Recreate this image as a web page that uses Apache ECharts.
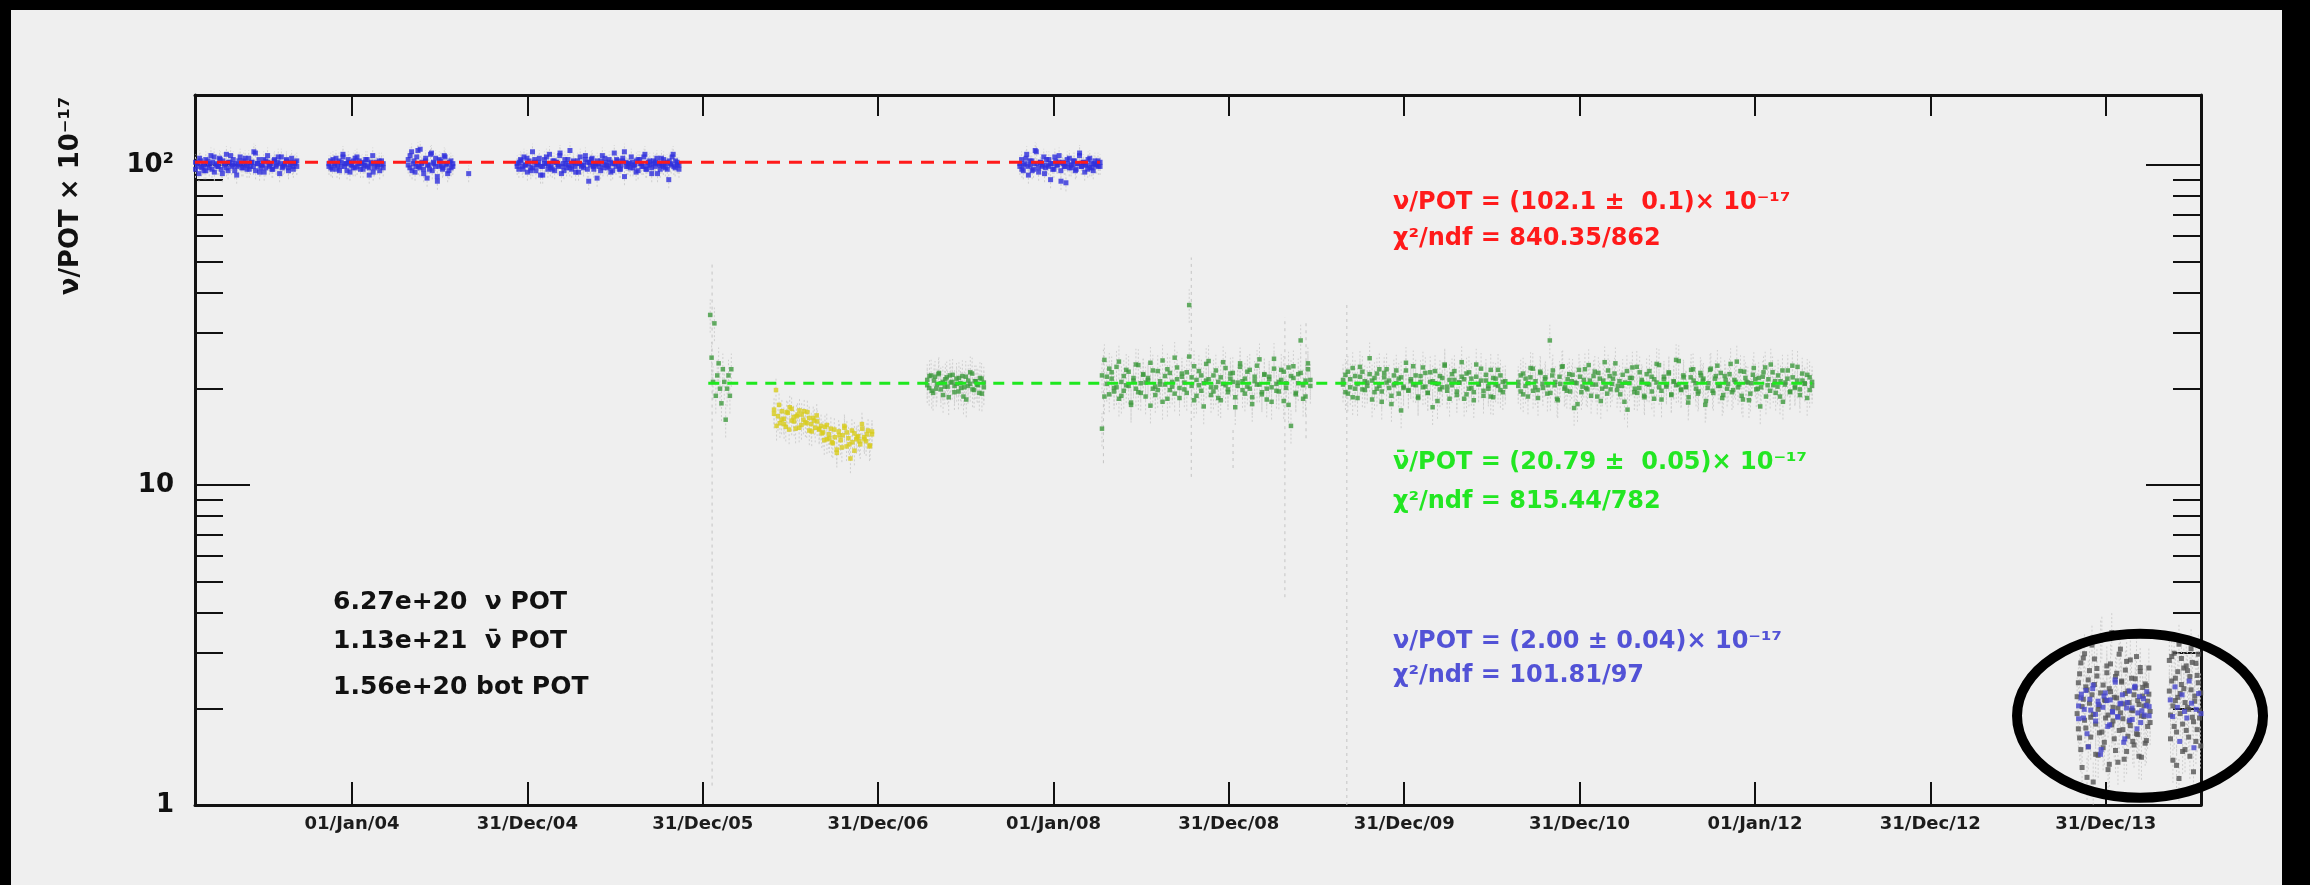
<!DOCTYPE html>
<html><head><meta charset="utf-8">
<script src="https://cdn.jsdelivr.net/npm/echarts@6/dist/echarts.min.js"></script>
<style>
html,body{margin:0;padding:0;background:#000;width:2310px;height:885px;overflow:hidden;}
#chart{position:absolute;left:11px;top:10px;width:2271px;height:875px;background:#efefef;}
</style></head><body><div id="chart"></div>
<script>
// ---------- axis definitions ----------
const xRange = ['2003-02-08', '2014-07-18'];
const yRange = [1, 165.5];
const xTickDates = ['2004-01-01T00:00:00Z','2004-12-31T06:00:00Z','2005-12-31T12:00:00Z','2006-12-31T18:00:00Z','2008-01-01T00:00:00Z','2008-12-31T06:00:00Z','2009-12-31T12:00:00Z','2010-12-31T18:00:00Z','2012-01-01T00:00:00Z','2012-12-31T06:00:00Z','2013-12-31T12:00:00Z'];
const xTickLabels = ['01/Jan/04','31/Dec/04','31/Dec/05','31/Dec/06','01/Jan/08','31/Dec/08','31/Dec/09','31/Dec/10','01/Jan/12','31/Dec/12','31/Dec/13'];
const yMajorTicks = [1, 10, 100];
const yMajorLabels = ['1', '10', '10²'];
const yMinorTicks = [2,3,4,5,6,7,8,9,20,30,40,50,60,70,80,90];

// ---------- neutrino mode (blue) ----------
const nuSeg1Range = ['2003-02-09','2003-09-08'];
const nuSeg1 = [97,101,94,103,99,96,104,100,98,107,102,95,101,99,105,97,103,100,108,96,102,99,104,101,93,100,106,98,103,100,97,105,99,102,110,96,101,104,98,100,95,103,107,99,101,97,104,100,102,94,106,99,101,103,98,100,105,97,102,99];
const nuSeg1b = [102,99,105,98,100,96,103,101,97,106,100,99,104,94,101,98,102,107,100,96,99,103,101,98,105,100,97,102,99,109,101,95,100,104,98,102,100,97,103,99,106,101,98,100,104,96,102,99,101,103];
const nuSeg2Range = ['2003-11-14','2004-03-06'];
const nuSeg2 = [99,103,97,101,105,100,96,102,108,99,101,104,95,100,103,98,106,101,97,102,100,104,99,93,101,107,98,102,100,96,103,101];
const nuSeg2b = [101,98,104,100,97,103,99,106,101,96,102,100,98,105,99,103,101,97,100,104,98,102,95,101,99,103,100,98];
const nuSeg3Range = ['2004-04-27','2004-07-29'];
const nuSeg3 = [104,98,110,101,95,106,99,112,102,97,103,91,100,108,96,101,105,89,99,103,97,107,100,94,102,98,101];
const nuSeg3b = [100,107,96,103,99,111,98,101,94,105,100,97,109,102,99,92,104,100,98,106,101,96,103,99];
const nuSeg4Range = ['2004-12-10','2005-11-12'];
const nuSeg4 = [101,97,104,99,106,100,95,103,98,110,102,96,100,105,99,93,104,101,97,108,100,103,96,102,99,107,94,101,104,98,100,111,97,103,99,101,95,106,100,98,104,102,89,100,105,97,101,103,99,96,107,100,102,98,104,95,101,109,99,103,97,100,105,92,102,99,101,106,98,100,103,96,104,101,99,108,97,102,100,94,103,99,105,101,97,100,104,98,102,90,101,106,99,103,100,97];
const nuSeg4b = [99,102,103,97,100,105,101,96,98,104,100,102,93,99,101,106,100,98,97,103,102,100,109,99,96,101,104,98,100,102,95,103,101,99,100,107,97,102,104,99,100,91,101,103,98,105,100,99,102,96,101,104,100,97,103,110,99,101,98,102,100,95,104,101,99,106,97,100,103,98,101,102,94,100,105,99,101,97,103,100,108,98,102,100];
const nuSeg5Range = ['2007-10-23','2008-04-07'];
const nuSeg5 = [99,104,96,101,108,93,100,103,97,111,101,95,102,99,106,98,100,104,90,101,97,103,100,107,96,102,99,88,101,105,98,100,103,97,101,109,99,102,95,100,104,98,101,96,103,100,99,102];
const nuSeg5b = [101,97,100,105,99,103,96,101,110,98,102,100,94,104,99,101,97,106,100,102,89,101,99,104,98,100,103,96,101,107,99,102,100,97,105,98,101,100,103,99];
const nuExtraDates = ['2004-08-31'];
const nuExtraValues = [94];

// ---------- antineutrino mode (green) ----------
const nbSeg1Range = ['2006-01-16','2006-03-01'];
const nbSeg1 = [34,25,21,32,19,22,24,20,18,23,21,16,20,22,19,23];
const nbSeg2Range = ['2007-04-13','2007-08-09'];
const nbSeg2 = [21.3,20.1,22.0,19.4,21.8,20.6,22.4,19.9,21.0,20.3,21.7,18.8,20.9,22.1,20.4,21.5,19.6,20.8,21.9,20.2,18.5,21.2,20.7,22.3,19.8,21.1,20.5,21.6,19.3,20.9];
const nbSeg2b = [20.5,21.9,19.7,21.2,20.0,22.2,20.8,19.1,21.4,20.3,22.0,21.0,19.5,20.7,21.6,20.1,18.9,21.8,20.4,22.5,19.9,21.1,20.6,19.4,21.5,20.2];
const nbSeg3Range = ['2008-04-11','2009-06-19'];
const nbSeg3 = [15.0,24.6,21.8,19.2,22.5,20.1,23.4,18.6,21.0,19.7,22.9,20.4,17.8,21.6,23.8,19.5,20.8,22.2,18.9,21.3,24.1,20.0,19.1,22.7,20.6,18.2,21.9,23.0,19.8,20.3,25.0,21.4,18.7,22.3,20.9,19.4,36.5,21.7,23.5,19.0,20.5,22.0,17.6,21.2,24.4,20.2,19.6,22.8,21.0,18.4,20.7,23.2,19.9,21.5,22.4,18.8,20.4,24.0,21.1,19.3,22.6,20.0,17.9,21.8,23.6,20.6,19.5,22.1,18.5,21.4,20.2,24.8,19.7,21.0,22.9,18.3,20.8,23.3,15.3,21.6,19.2,22.2,28.3,20.5,18.9,23.0,21.3];
const nbSeg3b = [22.0,18.9,20.7,23.1,21.5,19.6,20.2,24.3,19.0,21.9,20.5,22.6,18.1,21.2,20.0,23.7,19.4,22.1,20.9,21.6,17.7,22.8,20.3,19.8,21.1,24.5,20.6,18.6,22.4,21.0,19.3,23.3,20.1,21.8,19.9,22.5,25.2,20.4,18.4,21.3,22.7,19.7,20.8,23.9,21.4,19.1,22.0,20.2,18.7,21.7,24.2,20.5,19.5,22.3,21.0,17.5,20.9,23.4,19.8,21.5,20.3,22.9,18.8,21.1,20.6,24.7,19.2,22.2,20.0,21.8,18.2,23.1,20.7,19.6,21.3,22.6,20.1,17.8,21.9,23.5,19.4,20.8,22.4,18.6,21.2,24.0,20.4];
const nbSeg4Range = ['2009-08-26','2010-07-30'];
const nbSeg4 = [20.6,22.1,19.3,21.4,23.2,20.0,18.7,21.8,22.6,19.8,20.9,24.9,21.2,19.5,22.3,20.4,18.2,21.7,23.0,20.1,19.0,22.0,20.8,21.5,17.1,20.3,22.8,19.7,21.1,23.5,20.5,18.9,21.9,20.2,22.4,19.4,21.0,17.5,22.7,20.7,19.9,21.6,23.8,20.3,18.6,22.2,21.3,19.6,20.9,24.2,21.4,19.2,22.5,20.1,18.4,21.8,20.6,23.1,19.7,21.2,20.0,22.9,18.8,21.5,20.4,22.0,19.5,21.1];
const nbSeg4b = [21.3,19.5,22.6,20.2,18.8,21.9,20.7,23.4,19.9,21.1,20.4,22.2,18.5,21.6,20.0,23.0,19.6,22.4,20.9,21.2,17.9,20.5,22.8,19.3,21.7,20.1,24.1,19.8,21.4,20.6,22.0,18.7,21.0,23.3,20.3,19.4,22.5,21.1,20.8,18.3,21.9,20.2,23.6,19.7,21.3,20.5,22.7,19.1,20.9,21.8,18.6,22.3,20.0,21.5,19.5,23.8,20.7,21.2,19.0,22.1,20.4,18.9,21.6,20.6,22.9,19.8,21.0,20.3];
const nbSeg5Range = ['2010-08-26','2012-04-29'];
const nbSeg5 = [21.0,19.6,22.3,20.4,18.9,21.7,23.1,20.2,19.8,22.6,20.7,21.4,19.3,28.3,22.0,20.5,18.6,21.8,23.4,20.0,19.7,22.2,21.1,17.4,20.8,22.9,19.5,21.3,20.1,23.7,19.0,21.9,20.6,22.4,18.3,21.2,20.3,22.8,19.9,21.5,24.0,20.4,19.2,22.1,20.9,17.2,21.6,23.3,20.0,19.4,22.5,21.0,18.8,20.7,22.7,19.6,21.4,23.9,20.2,18.5,21.8,20.5,22.3,19.1,21.1,24.6,20.6,19.8,22.0,20.3,18.1,21.7,23.0,20.8,19.3,22.4,21.2,17.8,20.1,22.9,19.7,21.5,23.6,20.4,18.7,21.9,20.0,22.2,19.5,21.3,24.3,20.6,19.0,22.6,21.0,18.4,20.8,23.2,19.9,21.6,20.2,22.5,18.9,21.4,23.8,20.5,19.4,22.0,21.1,18.2,20.9,22.8,19.6,21.7,20.3,23.4,19.1,21.2,20.7,22.1,19.8,21.0];
const nbSeg5b = [20.4,22.0,19.2,21.5,20.8,23.2,19.7,21.1,18.7,22.4,20.1,21.7,20.5,19.4,22.8,21.0,18.4,20.7,23.5,20.2,21.4,19.6,22.1,20.9,17.9,21.8,20.3,23.0,19.9,21.2,20.6,22.6,18.9,21.5,20.0,24.2,19.3,21.9,20.7,22.3,19.8,21.1,20.4,18.2,22.7,20.8,21.6,19.5,23.4,20.1,21.3,19.0,22.2,20.6,21.8,18.6,20.9,23.7,19.7,21.4,20.3,22.5,19.2,21.0,20.5,24.4,19.9,21.7,20.2,18.8,22.9,21.2,20.0,19.6,22.0,21.5,18.3,20.8,23.1,19.4,21.9,20.4,22.4,19.1,21.3,20.7,23.9,19.8,21.0,20.2,22.7,18.5,21.6,20.9,19.3,22.1,21.4,20.0,17.6,21.8,23.3,20.5,19.7,22.5,21.1,20.3,18.9,22.8,20.6,21.5,19.5,23.6,20.1,21.2,19.9,22.3,20.8,18.7,21.7,20.4];

// ---------- antineutrino, absorber period (yellow) ----------
const ylRange = ['2006-05-29','2006-12-19'];
const ylValues = [17.2,19.8,16.4,15.6,17.0,16.1,15.2,16.8,17.5,15.9,16.3,15.0,16.6,17.1,15.4,16.0,15.7,16.9,14.8,15.5,16.2,15.1,15.8,14.9,15.3,14.6,15.2,13.9,14.4,15.0,13.5,14.1,12.9,14.7,13.8,14.3,15.1,13.2,14.0,12.1,13.6,14.5,13.9,14.2,13.4,15.0,14.1,13.7,14.8,13.3,14.4];
const ylValuesB = [16.7,15.3,17.8,16.0,15.5,16.9,14.9,17.3,15.8,16.4,15.1,16.6,17.0,15.6,16.2,14.7,15.9,16.5,15.0,14.5,13.8,15.4,14.0,13.6,14.9,12.6,14.3,13.1,15.3,14.6,13.4,14.8,12.8,14.1,13.7,15.5,13.9,14.4,13.2,14.7];

// ---------- beam off target (grey / blue) ----------
const botSeg1Range = ['2013-11-02','2014-04-03'];
const botSeg1 = [1.93,2.41,1.62,2.78,1.31,2.14,2.97,1.74,2.29,1.52,2.63,1.88,2.21,1.18,2.86,1.79,2.53,1.43,2.04,3.28,1.69,2.37,1.57,2.12,2.72,1.91,1.34,2.26,3.46,1.83,2.17,1.48,2.58,2.01,1.71,3.07,2.44,1.86,1.39,2.23,2.81,1.64,2.09,1.77,2.49,1.97,1.54,2.32,2.91,1.66,2.06,2.61,1.41,2.19,1.89,2.39,1.59,2.11,2.68,1.81];
const botSeg1b = [2.18,1.73,2.57,1.49,2.03,2.88,1.84,2.34,1.22,2.46,2.08,1.63,3.16,1.92,2.38,1.44,2.67,1.99,1.68,2.24,3.37,1.51,2.13,1.87,2.59,1.29,2.31,2.76,1.78,2.02,1.61,2.52,2.16,1.36,2.96,1.94,2.42,1.72,2.07,2.64,1.47,2.27,1.82,2.84,1.98,1.58,2.21,2.48,1.67,2.12,1.42,2.69,1.90,2.33,2.04,1.56,2.36,1.76,2.22,1.96];
const botSeg2Range = ['2014-05-13','2014-07-20'];
const botSeg2 = [2.83,1.91,2.44,1.38,2.98,2.12,1.69,2.61,1.21,2.23,2.87,1.79,2.31,1.49,2.72,2.02,1.63,2.52,3.08,1.88,1.27,2.19,2.77,1.72,2.41,1.97,1.53,2.58];
const botSeg2b = [2.27,1.61,2.91,2.04,1.76,2.49,1.33,2.17,3.18,1.93,2.38,1.47,2.68,2.09,1.71,2.63,1.99,1.42,2.29,2.79,1.82,2.11,1.58,2.54,2.96,1.87,2.24,1.66];
const botBlue1Range = ['2013-11-05','2014-04-01'];
const botBlue1 = [2.04,2.16,1.87,2.28,1.52,1.98,2.37,1.83,2.11,1.44,2.02,2.24,1.76,2.13,1.95,2.46,1.89,2.07,2.21,1.61,2.09,1.84,2.01,2.33,1.73,2.18,1.97,1.91,2.26,2.03];
const botBlue1b = [1.86,2.22,1.99,1.67,2.14,2.31,1.92,2.06,1.49,2.19,2.12,1.78,1.96,2.42,1.88,2.08,1.57,2.01,2.27,1.85,2.35,1.94,1.81,2.15,2.05,1.90];
const botBlue2Range = ['2014-05-15','2014-07-18'];
const botBlue2 = [2.13,1.89,2.34,2.02,1.58,2.21,1.96,1.87,2.44,2.08,1.51,1.99,2.23,1.93];

// ---------- typical relative errors per sample ----------
const nuRelErr = 0.06, nbRelErr = 0.12, ylRelErr = 0.10, botRelErr = 0.15;

// ---------- long error bars (date, low, high) ----------
const longBarDates = ['2006-01-20','2008-04-14','2008-10-14','2009-01-09','2009-04-27','2009-06-10','2009-09-03'];
const longBarLow  = [1.15, 11.7, 10.6, 11.3, 4.46, 14.0, 1.0];
const longBarHigh = [50, 26.5, 51.4, 15.2, 33.5, 32.7, 37.4];

// ---------- fits ----------
const nuFitValue = 102.1, nuFitRange = ['2003-02-08','2008-04-07'];
const nbFitValue = 20.79, nbFitRange = ['2006-01-12','2012-04-29'];
const ellipseCenter = ['2014-03-13', 1.9];

// ---------- helpers ----------
function ts(d){ return Date.parse(d.length === 10 ? d + 'T00:00:00Z' : d); }
function seg(range, vals){
  const a = ts(range[0]), b = ts(range[1]), n = vals.length;
  return vals.map((v, i) => [a + (b - a) * (n > 1 ? i / (n - 1) : 0), v]);
}
function errs(points, rel){ return points.map(p => [p[0], p[1] * (1 - rel), p[1] * (1 + rel)]); }

const nuPts = [].concat(
  seg(nuSeg1Range, nuSeg1), seg(nuSeg1Range, nuSeg1b),
  seg(nuSeg2Range, nuSeg2), seg(nuSeg2Range, nuSeg2b),
  seg(nuSeg3Range, nuSeg3), seg(nuSeg3Range, nuSeg3b),
  seg(nuSeg4Range, nuSeg4), seg(nuSeg4Range, nuSeg4b),
  seg(nuSeg5Range, nuSeg5), seg(nuSeg5Range, nuSeg5b),
  nuExtraDates.map((d, i) => [ts(d), nuExtraValues[i]]));
const nbPts = [].concat(
  seg(nbSeg1Range, nbSeg1),
  seg(nbSeg2Range, nbSeg2), seg(nbSeg2Range, nbSeg2b),
  seg(nbSeg3Range, nbSeg3), seg(nbSeg3Range, nbSeg3b),
  seg(nbSeg4Range, nbSeg4), seg(nbSeg4Range, nbSeg4b),
  seg(nbSeg5Range, nbSeg5), seg(nbSeg5Range, nbSeg5b));
const ylPts = [].concat(seg(ylRange, ylValues), seg(ylRange, ylValuesB));
const botPts = [].concat(seg(botSeg1Range, botSeg1), seg(botSeg1Range, botSeg1b), seg(botSeg2Range, botSeg2), seg(botSeg2Range, botSeg2b));
const botBluePts = [].concat(seg(botBlue1Range, botBlue1), seg(botBlue1Range, botBlue1b), seg(botBlue2Range, botBlue2));
const errData = [].concat(errs(nuPts, nuRelErr), errs(nbPts, nbRelErr), errs(ylPts, ylRelErr), errs(botPts, botRelErr));
const longBars = longBarDates.map((d, i) => [ts(d), longBarLow[i], longBarHigh[i]]);

const tickTs = xTickDates.map(ts);
const FONT = '"DejaVu Sans", "Liberation Sans", sans-serif';

function barRender(color, dash){
  return function(params, api){
    const x = api.value(0);
    const p1 = api.coord([x, Math.max(api.value(1), yRange[0])]);
    const p2 = api.coord([x, Math.min(api.value(2), yRange[1])]);
    return {type: 'line', shape: {x1: p1[0], y1: p1[1], x2: p2[0], y2: p2[1]},
      style: {stroke: color, lineWidth: 1, lineDash: dash}};
  };
}

const chart = echarts.init(document.getElementById('chart'), null, {renderer: 'canvas'});
const axisLineStyle = {color: '#111', width: 3};
const xCommon = {type: 'value', min: ts(xRange[0]), max: ts(xRange[1]), splitLine: {show: false}};
const yCommon = {type: 'log', logBase: 10, min: yRange[0], max: yRange[1], splitLine: {show: false}, minorTick: {show: false}};

chart.setOption({
  backgroundColor: '#efefef',
  animation: false,
  grid: {left: 184, top: 85, width: 2006, height: 710, containLabel: false},
  xAxis: [
    Object.assign({}, xCommon, {position: 'bottom',
      axisLine: {show: true, onZero: false, lineStyle: axisLineStyle},
      axisTick: {show: true, inside: true, length: 23, lineStyle: {color: '#111', width: 2}, customValues: tickTs},
      axisLabel: {show: true, customValues: tickTs, margin: 10, color: '#1c1c1c', fontFamily: FONT, fontWeight: 'bold', fontSize: 18,
        formatter: function(v){ let k = 0; let best = Infinity; tickTs.forEach((t, i) => { const d = Math.abs(t - v); if (d < best){ best = d; k = i; } }); return xTickLabels[k]; }}}),
    Object.assign({}, xCommon, {position: 'top',
      axisLine: {show: true, onZero: false, lineStyle: axisLineStyle},
      axisTick: {show: true, inside: true, length: 21, lineStyle: {color: '#111', width: 2}, customValues: tickTs},
      axisLabel: {show: false}})
  ],
  yAxis: [
    Object.assign({}, yCommon, {position: 'left',
      axisLine: {show: true, onZero: false, lineStyle: axisLineStyle},
      axisTick: {show: true, inside: true, length: 55, lineStyle: {color: '#111', width: 2}, customValues: yMajorTicks},
      axisLabel: {show: true, customValues: yMajorTicks, margin: 21, color: '#111', fontFamily: FONT, fontWeight: 'bold', fontSize: 26,
        formatter: function(v){ const i = yMajorTicks.findIndex(t => Math.abs(t - v) / t < 1e-6); return i >= 0 ? yMajorLabels[i] : ''; }}}),
    Object.assign({}, yCommon, {position: 'left',
      axisLine: {show: false},
      axisTick: {show: true, inside: true, length: 28, lineStyle: {color: '#111', width: 2}, customValues: yMinorTicks},
      axisLabel: {show: false}}),
    Object.assign({}, yCommon, {position: 'right',
      axisLine: {show: true, onZero: false, lineStyle: axisLineStyle},
      axisTick: {show: true, inside: true, length: 55, lineStyle: {color: '#111', width: 2}, customValues: yMajorTicks},
      axisLabel: {show: false}}),
    Object.assign({}, yCommon, {position: 'right',
      axisLine: {show: false},
      axisTick: {show: true, inside: true, length: 28, lineStyle: {color: '#111', width: 2}, customValues: yMinorTicks},
      axisLabel: {show: false}})
  ],
  series: [
    {type: 'custom', name: 'errors', xAxisIndex: 0, yAxisIndex: 0, renderItem: barRender('#cfcfcf', [2, 2]), data: errData, encode: {x: 0, y: [1, 2]}, z: 1, silent: true, clip: true},
    {type: 'custom', name: 'longErrors', xAxisIndex: 0, yAxisIndex: 0, renderItem: barRender('#c4c4c4', [3, 4]), data: longBars, encode: {x: 0, y: [1, 2]}, z: 1, silent: true, clip: true},
    {type: 'scatter', name: 'nu', data: nuPts, symbol: 'rect', symbolSize: 5, itemStyle: {color: '#2f2fdc'}, z: 3},
    {type: 'scatter', name: 'nubar', data: nbPts, symbol: 'rect', symbolSize: 4.5, itemStyle: {color: '#3f9a3f'}, z: 3},
    {type: 'scatter', name: 'absorber', data: ylPts, symbol: 'rect', symbolSize: 4.5, itemStyle: {color: '#d8cc1c'}, z: 3},
    {type: 'scatter', name: 'bot', data: botPts, symbol: 'rect', symbolSize: 5, itemStyle: {color: '#555555'}, z: 3, clip: true},
    {type: 'scatter', name: 'botBlue', data: botBluePts, symbol: 'rect', symbolSize: 5, itemStyle: {color: '#4646cc'}, z: 3, clip: true},
    {type: 'line', name: 'nuFit', data: nuFitRange.map(d => [ts(d), nuFitValue]), symbol: 'none', lineStyle: {color: '#ff1a1a', width: 3, type: [13, 9]}, z: 4, silent: true},
    {type: 'line', name: 'nbFit', data: nbFitRange.map(d => [ts(d), nbFitValue]), symbol: 'none', lineStyle: {color: '#1ee81e', width: 3, type: [11, 8]}, z: 4, silent: true}
  ]
});

const ec = chart.convertToPixel({xAxisIndex: 0, yAxisIndex: 0}, [ts(ellipseCenter[0]), ellipseCenter[1]]);
function txt(x, y, s, color, size){ return {type: 'text', x: x, y: y, z: 10, style: {text: s, fill: color, font: 'bold ' + (size || 24) + 'px ' + FONT, align: 'left', verticalAlign: 'middle'}}; }
chart.setOption({
  graphic: [
    {type: 'text', x: 60, y: 186, rotation: Math.PI / 2, z: 10, style: {text: 'ν/POT × 10⁻¹⁷', fill: '#111', font: 'bold 26px ' + FONT, align: 'center', verticalAlign: 'middle'}},
    txt(1382, 193, 'ν/POT = (102.1 ±  0.1)× 10⁻¹⁷', '#ff1a1a'),
    txt(1382, 229, 'χ²/ndf = 840.35/862', '#ff1a1a'),
    txt(1382, 453, 'ν̄/POT = (20.79 ±  0.05)× 10⁻¹⁷', '#22e622'),
    txt(1382, 492, 'χ²/ndf = 815.44/782', '#22e622'),
    txt(1382, 632, 'ν/POT = (2.00 ± 0.04)× 10⁻¹⁷', '#5252d6'),
    txt(1382, 666, 'χ²/ndf = 101.81/97', '#5252d6'),
    txt(322, 592, '6.27e+20  ν POT', '#111', 25),
    txt(322, 631, '1.13e+21  ν̄ POT', '#111', 25),
    txt(322, 677, '1.56e+20 bot POT', '#111', 25),
    {type: 'ellipse', z: 12, shape: {cx: ec[0], cy: ec[1], rx: 123, ry: 82}, style: {fill: 'none', stroke: '#000', lineWidth: 10}}
  ]
});
</script></body></html>
